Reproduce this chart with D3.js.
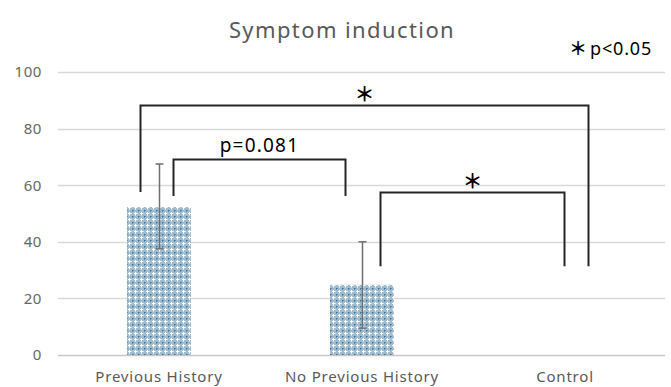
<!DOCTYPE html>
<html>
<head>
<meta charset="utf-8">
<script src="https://cdn.jsdelivr.net/npm/d3@7"></script>
<style>
  body { margin: 0; background: #fff; }
  svg { display: block; font-family: "Noto Sans", "Noto Sans CJK JP", sans-serif; }
</style>
</head>
<body>
<div id="chart"></div>
<script>
// data
const categories = ["Previous History", "No Previous History", "Control"];
const means = [52.3, 24.8, 0];
const errHigh = [67.5, 40, 0];
const errLow = [37.5, 9.5, 0];
const yTicks = [0, 20, 40, 60, 80, 100];

// significance brackets: [from, to, top, leftEnd, rightEnd, label]
const bracketFrom = [0, 0, 1];
const bracketTo = [2, 1, 2];
const bracketTop = [88.3, 69.2, 57.6];
const bracketLeftEnd = [57.6, 56.2, 31.4];
const bracketRightEnd = [31.4, 56.2, 31.4];
const bracketLabel = ["＊", "p=0.081", "＊"];

const width = 671, height = 387;

const svg = d3.select("#chart").append("svg")
    .attr("width", width)
    .attr("height", height);

const x = d3.scaleBand()
    .domain(categories)
    .range([57.5, 666.5])
    .paddingInner(0.685)
    .paddingOuter(0.3425);

const y = d3.scaleLinear()
    .domain([0, 100])
    .range([355, 72]);

// pattern fill like the excel one
const defs = svg.append("defs");
const pat = defs.append("pattern")
    .attr("id", "dots")
    .attr("patternUnits", "userSpaceOnUse")
    .attr("width", 6)
    .attr("height", 6);
pat.append("rect").attr("width", 6).attr("height", 6).attr("fill", "#9fbbd0");
pat.append("rect").attr("x", 0).attr("y", 0).attr("width", 1).attr("height", 1).attr("fill", "#3a729c");
pat.append("rect").attr("x", 1).attr("y", 0).attr("width", 1).attr("height", 1).attr("fill", "#6391b3");
pat.append("rect").attr("x", 0).attr("y", 1).attr("width", 1).attr("height", 1).attr("fill", "#6391b3");
pat.append("rect").attr("x", 3).attr("y", 2).attr("width", 1).attr("height", 3).attr("fill", "#ffffff");
pat.append("rect").attr("x", 2).attr("y", 3).attr("width", 3).attr("height", 1).attr("fill", "#ffffff");
pat.append("rect").attr("x", 5).attr("y", 3).attr("width", 1).attr("height", 1).attr("fill", "#d6e3ed");
pat.append("rect").attr("x", 3).attr("y", 5).attr("width", 1).attr("height", 1).attr("fill", "#d6e3ed");

// gridlines
svg.append("g")
    .selectAll("line")
    .data(yTicks)
    .join("line")
    .attr("x1", 58)
    .attr("x2", 665)
    .attr("y1", d => Math.round(y(d)) + 0.5)
    .attr("y2", d => Math.round(y(d)) + 0.5)
    .attr("stroke", d => d === 0 ? "#c8c8c8" : "#d9d9d9")
    .attr("stroke-width", 1.3);

// y labels
svg.append("g")
    .selectAll("text")
    .data(yTicks)
    .join("text")
    .attr("x", 42)
    .attr("y", d => y(d))
    .attr("dy", "0.36em")
    .attr("text-anchor", "end")
    .attr("fill", "#666")
    .attr("font-size", 15)
    .attr("letter-spacing", 0.6)
    .text(d => d);

// bars
svg.append("g")
    .selectAll("rect")
    .data(categories)
    .join("rect")
    .attr("x", d => x(d))
    .attr("y", (d, i) => y(means[i]))
    .attr("width", x.bandwidth())
    .attr("height", (d, i) => y(0) - y(means[i]))
    .attr("fill", "url(#dots)");

// error bars
const eb = svg.append("g")
    .attr("stroke", "#6f6f6f")
    .attr("stroke-width", 1.5);
categories.forEach((c, i) => {
    if (errHigh[i] === errLow[i]) return;
    const cx = Math.round(x(c) + x.bandwidth() / 2) + 0.5;
    eb.append("line").attr("x1", cx).attr("x2", cx)
        .attr("y1", y(errHigh[i])).attr("y2", y(errLow[i]));
    eb.append("line").attr("x1", cx - 4).attr("x2", cx + 4)
        .attr("y1", y(errHigh[i])).attr("y2", y(errHigh[i]));
    eb.append("line").attr("x1", cx - 4).attr("x2", cx + 4)
        .attr("y1", y(errLow[i])).attr("y2", y(errLow[i]));
});

// category labels
svg.append("g")
    .selectAll("text")
    .data(categories)
    .join("text")
    .attr("x", d => x(d) + x.bandwidth() / 2)
    .attr("y", 382)
    .attr("text-anchor", "middle")
    .attr("fill", "#595959")
    .attr("font-size", 15)
    .attr("letter-spacing", 0.8)
    .text(d => d);

// brackets
const center = i => x(categories[i]) + x.bandwidth() / 2;
const leftOff = [-19, 14, 18];
const rightOff = [23, -17, -1];
const br = svg.append("g");
bracketLabel.forEach((lab, k) => {
    const x1 = Math.round(center(bracketFrom[k]) + leftOff[k]) + 0.5;
    const x2 = Math.round(center(bracketTo[k]) + rightOff[k]) + 0.5;
    const yt = Math.round(y(bracketTop[k])) + 0.5;
    br.append("path")
        .attr("d", `M${x1},${y(bracketLeftEnd[k])}V${yt}H${x2}V${y(bracketRightEnd[k])}`)
        .attr("fill", "none")
        .attr("stroke", "#262626")
        .attr("stroke-width", 2);
    const t = br.append("text")
        .attr("x", (x1 + x2) / 2)
        .attr("text-anchor", "middle")
        .attr("fill", "#000")
        .text(lab);
    if (lab === "＊") {
        t.attr("y", yt - 12)
            .attr("dominant-baseline", "central")
            .attr("font-family", "Noto Sans CJK JP")
            .attr("font-weight", 700)
            .attr("font-size", 20);
    } else {
        t.attr("y", yt - 8)
            .attr("font-size", 19)
            .attr("letter-spacing", 1.2);
    }
});

// title
svg.append("text")
    .attr("x", 342)
    .attr("y", 38)
    .attr("text-anchor", "middle")
    .attr("fill", "#595959")
    .attr("font-size", 22)
    .attr("letter-spacing", 1.4)
    .text("Symptom induction");

// legend note
const note = svg.append("text")
    .attr("x", 652)
    .attr("y", 55)
    .attr("text-anchor", "end")
    .attr("fill", "#000")
    .attr("font-size", 18);
note.append("tspan")
    .attr("font-family", "Noto Sans CJK JP")
    .attr("font-weight", 700)
    .text("＊");
note.append("tspan")
    .attr("dx", 3)
    .attr("letter-spacing", 0.8)
    .text("p<0.05");
</script>
</body>
</html>
